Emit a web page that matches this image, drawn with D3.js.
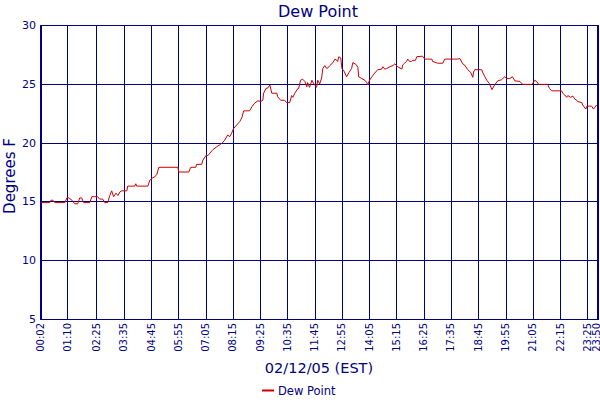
<!DOCTYPE html>
<html><head><meta charset="utf-8">
<script src="https://cdn.jsdelivr.net/npm/d3@7/dist/d3.min.js"></script>
<style>body{margin:0;background:#fff}svg{display:block}</style>
</head><body>
<svg id="c" width="600" height="400"></svg>
<script>
// minutes since midnight on 02/12/05
const times = [2,25,28,33,38,64,69,74,82,89,97,102,107,112,128,133,141,148,153,161,166,174,179,184,189,195,200,205,210,223,225,243,246,248,277,282,289,295,300,305,354,356,
382,387,400,402,415,418,426,431,436,444,454,461,467,474,482,487,492,497,505,513,518,523,538,544,551,559,567,572,574,580,585,590,595,608,610,618,628,633,641,646,649,654,662,664,669,674,680,685,687,692,698,703,710,713,
718,723,726,731,736,739,744,752,757,762,764,767,772,775,780,787,793,800,803,811,816,818,826,834,839,841,846,852,859,867,877,880,885,890,898,906,911,918,929,931,936,941,944,949,954,957,964,967,982,988,995,1006,1008,1021,1034,1039,1065,
1072,1078,1085,1090,1098,1106,1111,1113,1116,1134,1136,1142,1147,1154,1160,1167,1175,1185,1193,1198,1206,1213,1219,1232,1239,1262,1265,1270,1275,1280,1303,1308,1314,1339,1342,1347,1352,1355,1362,1368,1373,1378,1380,1391,1393,1401,1404,1411,1416,1421,1429];
const dewPoint = [14.9,14.9,15.1,15.1,14.9,14.9,15.3,15.3,15.1,14.8,14.8,15.3,15.3,14.9,14.9,15.4,15.4,15.4,15.2,15.2,14.9,14.9,15.5,15.9,15.4,15.7,15.5,15.8,15.9,15.9,16.3,16.3,16.5,16.3,16.3,16.8,17.0,17.1,17.3,17.9,17.9,17.5,
17.5,17.9,17.9,18.15,18.15,18.5,18.9,18.9,19.1,19.4,19.65,19.8,19.95,20.2,20.65,20.5,20.8,21.2,21.5,21.8,22.1,22.7,22.7,23.05,23.35,23.55,23.5,23.6,24.2,24.6,24.65,24.9,24.2,24.2,23.9,23.6,23.6,23.4,23.4,24.0,23.85,24.2,24.6,24.6,25.3,25.4,25.2,24.75,25.1,24.7,25.3,25.0,24.7,25.3,
25.0,25.5,26.3,26.55,26.3,26.35,26.55,26.8,27.1,27.0,26.9,27.3,27.2,26.3,26.1,25.6,25.95,26.3,26.8,26.65,26.4,25.6,25.45,25.3,25.1,24.9,25.3,25.6,25.9,26.2,26.25,26.45,26.25,26.3,26.45,26.55,26.7,26.45,26.25,26.6,26.75,26.9,27.1,26.9,26.9,27.0,27.0,27.3,27.35,27.1,27.1,27.1,26.9,26.75,26.75,27.1,27.1,
27.1,27.15,26.7,26.6,26.2,25.95,25.55,26.0,26.2,26.2,26.0,25.6,25.3,25.0,24.5,24.9,25.25,25.35,25.6,25.45,25.45,25.6,25.25,25.2,24.95,24.95,25.05,25.3,25.2,24.95,24.95,24.6,24.4,24.4,24.2,24.05,23.85,24.0,23.85,23.95,23.7,23.6,23.5,23.4,23.2,22.85,23.1,23.1,23.1,22.85,23.2];
const xTickLabels = ["00:02","01:10","02:25","03:35","04:45","05:55","07:05","08:15","09:25","10:35","11:45","12:55","14:05","15:15","16:25","17:35","18:45","19:55","21:05","22:15","23:25","23:50"];
const yTicks = [5,10,15,20,25,30];
const title = "Dew Point";
const xTitle = "02/12/05 (EST)";
const yTitle = "Degrees F";
const seriesName = "Dew Point";

const navy = "#000080", red = "#cc0000";
const font = "DejaVu Sans, Verdana, sans-serif";
const svg = d3.select("#c");
const L = 40, R = 599, T = 25, B = 319;
const toMin = s => +s.slice(0,2)*60 + +s.slice(3);
const x = d3.scaleLinear().domain([0,1435]).range([L,R]);
const y = d3.scaleLinear().domain([5,30]).range([B,T]);

// grid
const g = svg.append("g");
g.selectAll("line.v").data(xTickLabels).join("line")
  .attr("x1", d=>Math.round(x(toMin(d)))+0.5).attr("x2", d=>Math.round(x(toMin(d)))+0.5)
  .attr("y1", T).attr("y2", B).attr("stroke", navy).attr("stroke-width",1);
g.selectAll("line.h").data(yTicks).join("line")
  .attr("x1", L).attr("x2", R)
  .attr("y1", d=>Math.round(y(d))+0.5).attr("y2", d=>Math.round(y(d))+0.5)
  .attr("stroke", navy).attr("stroke-width",1);
// frame
svg.append("rect").attr("x",L+0.5).attr("y",T+0.5).attr("width",R-L-1).attr("height",B-T)
  .attr("fill","none").attr("stroke",navy).attr("stroke-width",1);

// y axis labels
svg.selectAll("text.yt").data(yTicks).join("text")
  .attr("x", 36).attr("y", d=>y(d)+4).attr("text-anchor","end")
  .attr("font-family",font).attr("font-size",11).attr("fill",navy).text(d=>d);
// x axis labels
svg.selectAll("text.xt").data(xTickLabels).join("text")
  .attr("transform", d=>`translate(${Math.min(x(toMin(d))+3.5, 599.5)},323) rotate(-90)`)
  .attr("text-anchor","end")
  .attr("font-family",font).attr("font-size",10).attr("fill",navy).text(d=>d);

// line
const data = times.map((t,i)=>[t, dewPoint[i]]);
svg.append("path").datum(data)
  .attr("d", d3.line().x(d=>x(d[0])).y(d=>y(d[1])))
  .attr("fill","none").attr("stroke",red).attr("stroke-width",1);

// titles
svg.append("text").attr("x",318).attr("y",17).attr("text-anchor","middle")
  .attr("font-family",font).attr("font-size",16).attr("fill",navy).text(title);
svg.append("text").attr("x",319).attr("y",373).attr("text-anchor","middle")
  .attr("font-family",font).attr("font-size",14.5).attr("fill",navy).text(xTitle);
svg.append("text").attr("transform","translate(15,176) rotate(-90)").attr("text-anchor","middle")
  .attr("font-family",font).attr("font-size",15).attr("fill",navy).text(yTitle);

// legend
svg.append("line").attr("x1",262).attr("x2",274).attr("y1",390.5).attr("y2",390.5)
  .attr("stroke",red).attr("stroke-width",2);
svg.append("text").attr("x",278).attr("y",395).attr("font-family",font).attr("font-size",11.5)
  .attr("fill",navy).text(seriesName);
</script>
</body></html>
